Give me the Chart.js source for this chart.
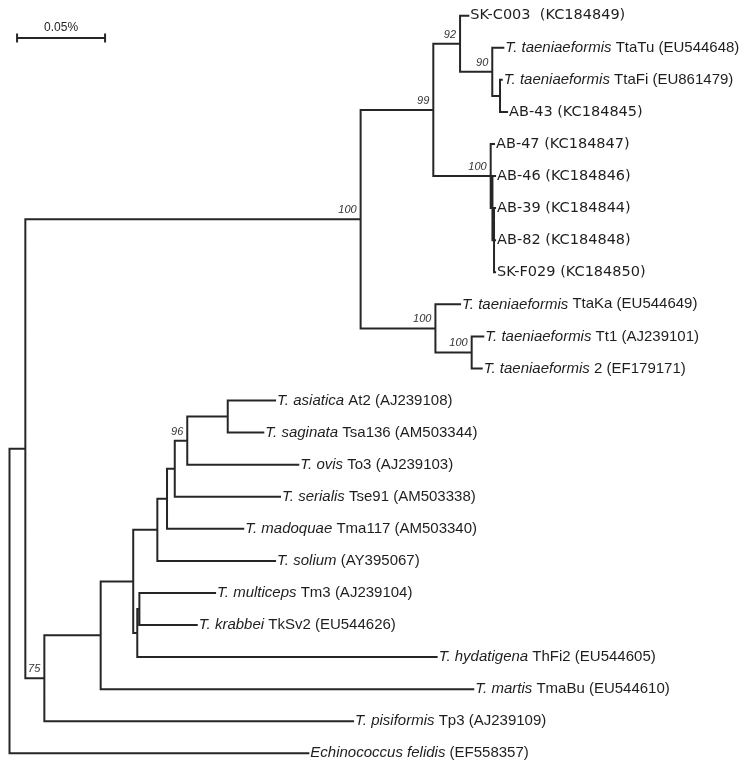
<!DOCTYPE html>
<html>
<head>
<meta charset="utf-8">
<title>Taenia phylogeny</title>
<script src="https://cdn.jsdelivr.net/npm/chart.js@4.4.1/dist/chart.umd.min.js"></script>
<style>
  html, body { margin: 0; padding: 0; background: #fff; }
  #wrap { width: 754px; height: 768px; }
</style>
</head>
<body>
<div id="wrap"><canvas id="tree" width="754" height="768"></canvas></div>
<script>
'use strict';

// ── Data ──────────────────────────────────────────────────────
// Leaves, top to bottom. Species part is set in italics.
const leafSpecies = [
  '', 'T. taeniaeformis', 'T. taeniaeformis', '', '', '', '', '', '',
  'T. taeniaeformis', 'T. taeniaeformis', 'T. taeniaeformis',
  'T. asiatica', 'T. saginata', 'T. ovis', 'T. serialis', 'T. madoquae',
  'T. solium', 'T. multiceps', 'T. krabbei', 'T. hydatigena', 'T. martis',
  'T. pisiformis', 'Echinococcus felidis',
];
const leafTags = [
  'SK-C003  (KC184849)', 'TtaTu (EU544648)', 'TtaFi (EU861479)', 'AB-43 (KC184845)',
  'AB-47 (KC184847)', 'AB-46 (KC184846)', 'AB-39 (KC184844)', 'AB-82 (KC184848)',
  'SK-F029 (KC184850)', 'TtaKa (EU544649)', 'Tt1 (AJ239101)', '2 (EF179171)',
  'At2 (AJ239108)', 'Tsa136 (AM503344)', 'To3 (AJ239103)', 'Tse91 (AM503338)',
  'Tma117 (AM503340)', '(AY395067)', 'Tm3 (AJ239104)', 'TkSv2 (EU544626)',
  'ThFi2 (EU544605)', 'TmaBu (EU544610)', 'Tp3 (AJ239109)', '(EF558357)',
];
// parent node and distance from root (%) of each leaf
const leafParents = [
  'P', 'R', 'S', 'S', 'Q', 'T', 'U', 'U', 'U', 'N', 'V', 'V',
  'L', 'L', 'K', 'J', 'I', 'F', 'H', 'H', 'G', 'D', 'C', 'root',
];
const leafDepths = [
  0.2607, 0.2806, 0.2797, 0.2827, 0.2753, 0.2759, 0.2759, 0.2759, 0.2759, 0.2560, 0.2692, 0.2683,
  0.1509, 0.1442, 0.1641, 0.1537, 0.1328, 0.1509, 0.1168, 0.1064, 0.2427, 0.2635, 0.1952, 0.1698,
];

// Internal nodes
const nodeIds     = ['root', 'A', 'B', 'M', 'P', 'R', 'S', 'Q', 'T', 'U', 'N', 'V',
                     'C', 'D', 'E', 'F', 'I', 'J', 'K', 'L', 'G', 'H'];
const nodeParents = [null, 'root', 'A', 'B', 'M', 'P', 'R', 'M', 'Q', 'T', 'B', 'N',
                     'A', 'C', 'D', 'E', 'F', 'I', 'J', 'K', 'E', 'G'];
const nodeDepths  = [0, 0.0090, 0.1995, 0.2408, 0.2560, 0.2743, 0.2787, 0.2734, 0.2744, 0.2753, 0.2420, 0.2626,
                     0.0198, 0.0518, 0.0703, 0.0840, 0.0895, 0.0939, 0.1010, 0.1240, 0.0726, 0.0738];

// Bootstrap support
const bootNodes  = ['B', 'M', 'P', 'R', 'Q', 'N', 'V', 'K', 'C'];
const bootValues = [100, 99, 92, 90, 100, 100, 100, 96, 75];

// Scale bar (%)
const scaleBarStart  = 0.0043;
const scaleBarLength = 0.05;
const scaleBarRow    = 0.695;
const scaleBarLabel  = '0.05%';

// ── Layout ────────────────────────────────────────────────────
const LINE = '#262626';
const TEXT = '#1e1e1e';
const SANS = '"Liberation Sans", Arial, sans-serif';
const ISOLATE = '"DejaVu Sans", Verdana, sans-serif';

function el(id) { return document.getElementById(id); }

// x = depth, y = row; internal node row = middle of its outer children
function layoutTree() {
  const pos = {};
  leafParents.forEach((p, i) => { pos['leaf' + i] = { x: leafDepths[i], y: i, parent: p }; });
  nodeIds.forEach((id, i) => { pos[id] = { x: nodeDepths[i], y: null, parent: nodeParents[i] }; });

  const kids = {};
  Object.keys(pos).forEach((k) => {
    const p = pos[k].parent;
    if (p) (kids[p] = kids[p] || []).push(k);
  });

  function rowOf(id) {
    if (pos[id].y != null) return pos[id].y;
    const ys = kids[id].map(rowOf);
    pos[id].y = (Math.min(...ys) + Math.max(...ys)) / 2;
    return pos[id].y;
  }
  rowOf('root');
  return { pos, kids };
}

function treeSegments(tree) {
  const pts = [];
  const gap = () => pts.push({ x: 0, y: null });
  Object.keys(tree.pos).forEach((id) => {
    const n = tree.pos[id];
    if (n.parent) {
      const p = tree.pos[n.parent];
      pts.push({ x: p.x, y: n.y }, { x: n.x, y: n.y });
      gap();
    }
    if (tree.kids[id]) {
      const ys = tree.kids[id].map((k) => tree.pos[k].y);
      pts.push({ x: n.x, y: Math.min(...ys) }, { x: n.x, y: Math.max(...ys) });
      gap();
    }
  });
  return pts;
}

function scaleBarSegments() {
  const a = scaleBarStart, b = scaleBarStart + scaleBarLength, r = scaleBarRow, t = 0.14;
  return [
    { x: a, y: r }, { x: b, y: r }, { x: 0, y: null },
    { x: a, y: r - t }, { x: a, y: r + t }, { x: 0, y: null },
    { x: b, y: r - t }, { x: b, y: r + t },
  ];
}

// ── Labels plugin ─────────────────────────────────────────────
const labelPlugin = {
  id: 'treeLabels',
  afterDatasetsDraw(chart, args, opts) {
    const { ctx } = chart;
    const xs = chart.scales.x, ys = chart.scales.y;
    const tree = opts.tree;
    ctx.save();
    ctx.fillStyle = TEXT;
    ctx.textBaseline = 'middle';
    ctx.textAlign = 'left';

    // leaf names
    leafSpecies.forEach((sp, i) => {
      let x = xs.getPixelForValue(leafDepths[i]) + 2;
      const y = ys.getPixelForValue(i);
      if (sp) {
        ctx.font = 'italic 15px ' + SANS;
        ctx.fillText(sp, x, y);
        x += ctx.measureText(sp + ' ').width;
        ctx.font = '15px ' + SANS;
      } else {
        ctx.font = '14.5px ' + ISOLATE;
      }
      ctx.fillText(leafTags[i], x, y);
    });

    // bootstrap values
    ctx.font = 'italic 11px ' + SANS;
    ctx.textAlign = 'right';
    ctx.fillStyle = '#333';
    bootNodes.forEach((id, i) => {
      const n = tree.pos[id];
      ctx.fillText(String(bootValues[i]), xs.getPixelForValue(n.x) - 4, ys.getPixelForValue(n.y) - 9);
    });

    // scale bar caption
    ctx.font = '12px ' + SANS;
    ctx.textAlign = 'center';
    ctx.fillStyle = TEXT;
    ctx.fillText(scaleBarLabel,
      xs.getPixelForValue(scaleBarStart + scaleBarLength / 2),
      ys.getPixelForValue(scaleBarRow) - 10);
    ctx.restore();
  },
};

// ── Chart ─────────────────────────────────────────────────────
document.addEventListener('DOMContentLoaded', () => {
  const tree = layoutTree();
  const W = 754, H = 768;
  const pxPerUnit = 1760;           // 0.05 % = 88 px
  const rowPx = 32.07, firstRowPx = 15.7, rootPx = 9.5;

  new Chart(el('tree').getContext('2d'), {
    type: 'line',
    data: {
      datasets: [
        {
          data: treeSegments(tree),
          borderColor: LINE,
          borderWidth: 2,
          borderCapStyle: 'square',
          borderJoinStyle: 'miter',
          pointRadius: 0,
          spanGaps: false,
          tension: 0,
        },
        {
          data: scaleBarSegments(),
          borderColor: LINE,
          borderWidth: 2,
          pointRadius: 0,
          spanGaps: false,
          tension: 0,
        },
      ],
    },
    options: {
      responsive: false,
      animation: false,
      layout: { padding: 0 },
      scales: {
        x: {
          type: 'linear', display: false,
          min: -rootPx / pxPerUnit,
          max: (W - rootPx) / pxPerUnit,
        },
        y: {
          type: 'linear', display: false, reverse: true,
          min: -firstRowPx / rowPx,
          max: (H - firstRowPx) / rowPx,
        },
      },
      plugins: {
        legend: { display: false },
        tooltip: { enabled: false },
        treeLabels: { tree },
      },
    },
    plugins: [labelPlugin],
  });
});
</script>
</body>
</html>
